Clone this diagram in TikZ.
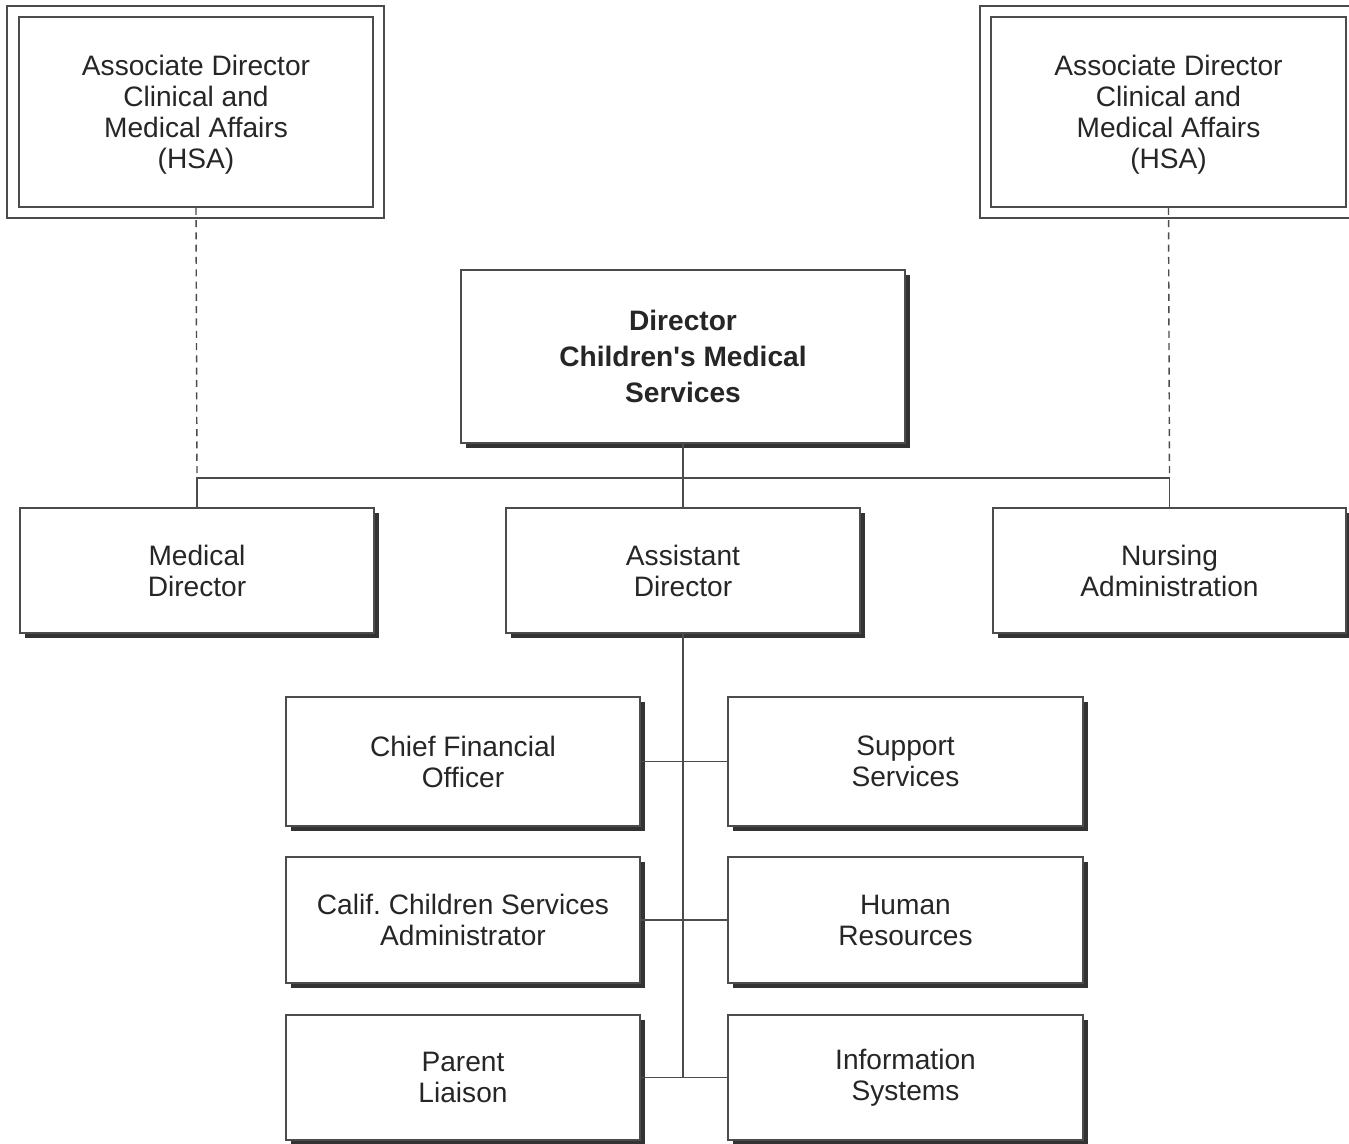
\documentclass[tikz,border=0pt]{standalone}
\usepackage{fontspec}
\setmainfont{Liberation Sans}
\usepackage{tikz}
\usetikzlibrary{calc,shadows}
\usetikzlibrary{positioning}
\frenchspacing

\tikzset{
    box/.style={draw=black!70, line width=0.9pt, fill=white, align=center,
        text=black!85, font=\fontsize{16}{17.6}\selectfont, inner sep=0pt},
    shadowbox/.style={box, drop shadow={shadow xshift=0.1cm, shadow yshift=-0.1cm,
        fill=black!80, opacity=1}},
    link/.style={draw=black!70, line width=0.8pt},
}

\begin{document}
\begin{tikzpicture}[x=0.02cm, y=-0.02cm]
                \fill[white] (0,0) rectangle (1349,1143);
                \useasboundingbox (0,0) rectangle (1349,1143);
                % the two HSA boxes, framed twice
                \node[box, minimum width=7.08cm, minimum height=3.8cm, text depth=-6pt] (lhsa) at (196,112)
                    {Associate Director\\Clinical and\\Medical Affairs\\(HSA)};
                \node[box, minimum width=7.1cm, minimum height=3.8cm, text depth=-6pt] (rhsa) at (1168.5,112)
                    {Associate Director\\Clinical and\\Medical Affairs\\(HSA)};
                \draw[draw=black!70, line width=0.9pt] ($(lhsa.north west)+(-11,-10)$) rectangle ($(lhsa.south east)+(10,10)$);
                \draw[draw=black!70, line width=0.9pt] ($(rhsa.north west)+(-10,-10)$) rectangle ($(rhsa.south east)+(10,10)$);
                % director
                \node[shadowbox, minimum width=8.88cm, minimum height=3.46cm,
                    font=\fontsize{16}{20.7}\selectfont\bfseries] (dir) at (683,356.5)
                    {Director\\Children\textquotesingle s Medical\\Services};
                % second row
                \node[shadowbox, minimum width=7.08cm, minimum height=2.5cm] (med) at (197,570.5) {Medical\\Director};
                \node[shadowbox, minimum width=7.08cm, minimum height=2.5cm] (asst) at (683,570.5) {Assistant\\Director};
                \node[shadowbox, minimum width=7.06cm, minimum height=2.5cm] (nurs) at (1169.5,570.5) {Nursing\\Administration};
                % staff under the assistant director
                \node[shadowbox, minimum width=7.08cm, minimum height=2.58cm] (cfo) at (463,761.5) {Chief Financial\\Officer};
                \node[shadowbox, minimum width=7.1cm, minimum height=2.58cm] (supp) at (905.5,761.5) {Support\\Services};
                \node[shadowbox, minimum width=7.08cm, minimum height=2.52cm] (ccs) at (463,920) {Calif. Children Services\\Administrator};
                \node[shadowbox, minimum width=7.1cm, minimum height=2.52cm] (hr) at (905.5,920) {Human\\Resources};
                \node[shadowbox, minimum width=7.08cm, minimum height=2.5cm] (parl) at (463,1077.5) {Parent\\Liaison};
                \node[shadowbox, minimum width=7.1cm, minimum height=2.5cm] (info) at (905.5,1077.5) {Information\\Systems};
                % bus under the director
                \coordinate (bus) at (683,478);
                \draw[link] (dir.south) -- (bus);
                \draw[link] (med.north) -- (med.north |- bus) -- (nurs.north |- bus) -- (nurs.north);
                \draw[link] (bus) -- (asst.north);
                \draw[link, dash pattern=on 4pt off 3pt] (lhsa.south) -- (med.north |- bus);
                \draw[link, dash pattern=on 4pt off 3pt] (rhsa.south) -- (nurs.north |- bus);
                % spine and branches
                \draw[link] (asst.south) -- (asst.south |- parl.east);
                \draw[link] (cfo.east) -- (supp.west);
                \draw[link] (ccs.east) -- (hr.west);
                \draw[link] (parl.east) -- (info.west);
            \end{tikzpicture}
\end{document}
